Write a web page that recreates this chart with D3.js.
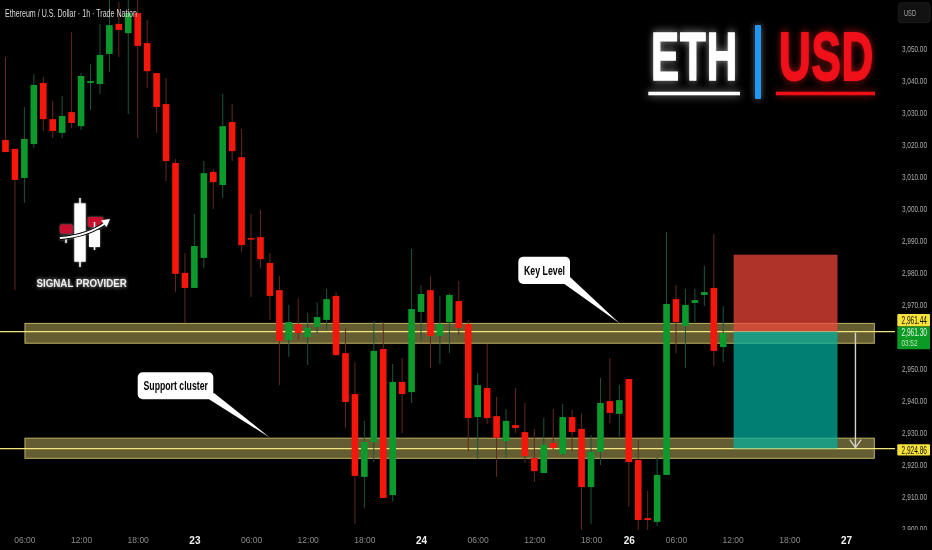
<!DOCTYPE html>
<html><head><meta charset="utf-8">
<script src="https://cdn.jsdelivr.net/npm/d3@7/dist/d3.min.js"></script>
<style>
html,body{margin:0;padding:0;background:#000;width:932px;height:550px;overflow:hidden}
svg{display:block;font-family:"Liberation Sans Narrow","Liberation Sans",Roboto,sans-serif;filter:blur(.35px)}
</style></head><body>
<svg id="c" width="932" height="550"></svg>
<script>
const opens=[3021.4,3018.6,3009.5,3020.1,3039.2,3027.9,3023.6,3030.1,3025.7,3039.2,3038.9,3048.3,3057.7,3054.8,3061.1,3051.7,3042.3,3032.6,3014.2,2979.8,2975.1,2984.5,3011.4,3007.3,3027,3016,2990.7,2991,2982.9,2974.4,2958.8,2963.8,2959.7,2962.9,2965.1,2972.6,2954.7,2941.9,2916,2926.9,2956,2910.3,2945.7,2942.5,2967.6,2974.4,2960.1,2964.4,2971,2963.8,2934.7,2943.8,2935,2927.2,2932.2,2930,2921.9,2917.2,2926.6,2923.1,2934.7,2931,2912.8,2923.8,2939.7,2935.7,2946.6,2921.3,2903.1,2901.9,2916.6,2971.6,2963.2,2970.4,2972.9,2975.1,2956.6];
const highs=[3047.3,3018.6,3031.7,3042,3041.1,3033.6,3035.1,3055.1,3042.3,3045.1,3057.7,3065.8,3064.5,3066.7,3066.7,3058.9,3042.3,3040.8,3015.4,2986,2998.2,3014.8,3012.3,3035.8,3032.6,3024.8,2998.2,2999.5,2986,2978.8,2969.8,2971.9,2967.3,2970.7,2974.8,2973.8,2962.6,2951.9,2933.5,2964.7,2964.4,2951.3,2953.2,2987.3,2976,2978.8,2972.6,2973.5,2977.3,2965.1,2948.5,2957.6,2941,2937.2,2943.8,2939.1,2931,2934.4,2937.2,2938.8,2936.9,2935.7,2929.1,2946.9,2953.2,2944.7,2946.6,2927.5,2911.6,2922.2,2992.6,2976,2974.8,2974.8,2982,2992,2969.4];
const lows=[3017.6,2974.4,3001.7,3018.9,3024.2,3022,3022,3025.1,3024.5,3030.8,3035.8,3042.6,3047.3,3029.5,3022,3037.6,3023.6,3008.5,2973.8,2964.1,2975.1,2981.3,2999.8,3003.2,3014.8,2986.3,2972.3,2981.3,2965.1,2944.7,2953.5,2958.8,2951,2961,2961.9,2953.8,2931.3,2901.3,2906.3,2920.6,2909.4,2908.4,2929.7,2939.1,2958.8,2950,2951.3,2954.7,2960.4,2924.1,2921.6,2932.5,2916,2921.9,2929.7,2920.3,2914.4,2917.2,2924.4,2922.8,2924.1,2899.4,2901.3,2919.7,2932.8,2928.5,2906.6,2899.4,2899.4,2900.6,2916.6,2954.7,2950,2964.4,2969.4,2950.7,2951.9];
const closes=[3017.6,3008.9,3021.7,3038.6,3027.9,3024.2,3028.9,3026.7,3041.4,3039.8,3048,3057.3,3055.8,3061.1,3050.8,3042.9,3031.7,3014.8,2979.5,2975.1,2988.2,3011,3008.2,3025.7,3017.9,2988.5,2990.4,2984.1,2972.6,2958.5,2964.4,2961,2962.6,2966,2971.6,2954.1,2939.4,2916.3,2926.9,2955.4,2909.4,2945.7,2941.9,2968.5,2973.2,2960.1,2963.8,2972.9,2962.6,2934.4,2944.7,2934.4,2928.2,2933.5,2931.3,2922.5,2917.8,2926,2925,2934.7,2930,2912.8,2923.8,2939.1,2936,2940,2920.6,2902.5,2902.5,2916.6,2970.1,2964.4,2969.8,2971.3,2973.8,2955.4,2961];
const tickBars=[2,8,14,20,26,32,38,44,50,56,62,66,71,77,83,89];
const tickLabels=["06:00","12:00","18:00","23","06:00","12:00","18:00","24","06:00","12:00","18:00","26","06:00","12:00","18:00","27"];
const priceTicks=[2900,2910,2920,2930,2940,2950,2970,2980,2990,3000,3010,3020,3030,3040,3050];
const levels=[2961.44,2924.86];
const zoneTops=[2964,2928.1];
const zoneBottoms=[2957.8,2921.8];
const zoneBars=[2.06,92];
const entry=2961.44, stopLevel=2985.5, target=2924.86;
const boxBars=[77.1,88.1];
const arrowBar=90;
const title="Ethereum / U.S. Dollar · 1h · Trade Nation";

const svg=d3.select("#c");
const defs=svg.append("defs");
defs.append("clipPath").attr("id","plot").append("rect").attr("x",0).attr("y",0).attr("width",895).attr("height",530);
defs.append("clipPath").attr("id","axisclip").append("rect").attr("x",895).attr("y",0).attr("width",37).attr("height",530);
svg.append("rect").attr("width",932).attr("height",550).attr("fill","#000");

// squeeze a text horizontally to a given width, keeping its measured box true
function fit(t,px,py,w){
  const len=t.node().getComputedTextLength();
  t.attr("x",0).attr("y",0).attr("transform",`translate(${px},${py}) scale(${w/len},1)`);
  return t;
}

const x=d3.scaleLinear().domain([0,89]).range([5.5,846]);
const y=d3.scaleLinear().domain([2900,3050]).range([528,48.5]);
const plot=svg.append("g").attr("clip-path","url(#plot)");

// zones and level lines
zoneTops.forEach((t,i)=>{
  plot.append("rect").attr("x",x(zoneBars[0])).attr("width",x(zoneBars[1])-x(zoneBars[0]))
   .attr("y",y(t)).attr("height",y(zoneBottoms[i])-y(t))
   .attr("fill","rgba(200,185,100,.5)").attr("stroke","#bdb163").attr("stroke-width",1);
  plot.append("line").attr("x1",0).attr("x2",897).attr("y1",y(levels[i])).attr("y2",y(levels[i]))
   .attr("stroke","#f4e67e").attr("stroke-width",1.2);
});

// candles
const idx=d3.range(opens.length);
const up=i=>closes[i]>=opens[i];
plot.selectAll(".w").data(idx).join("line").attr("x1",i=>x(i)).attr("x2",i=>x(i))
  .attr("y1",i=>y(highs[i])).attr("y2",i=>y(lows[i]))
  .attr("stroke",i=>up(i)?"#1b5540":"#632a1f").attr("stroke-width",1);
plot.selectAll(".b").data(idx).join("rect").attr("x",i=>x(i)-3.3).attr("width",6.6)
  .attr("y",i=>y(Math.max(opens[i],closes[i])))
  .attr("height",i=>Math.max(1.6,Math.abs(y(opens[i])-y(closes[i]))))
  .attr("fill",i=>up(i)?"#0c9a2d":"#f5170b");

// position box
const bx=x(boxBars[0]),bw=x(boxBars[1])-x(boxBars[0]);
plot.append("rect").attr("x",bx).attr("width",bw).attr("y",y(stopLevel)).attr("height",y(entry)-y(stopLevel)).attr("fill","rgba(250,72,58,.7)");
plot.append("rect").attr("x",bx).attr("width",bw).attr("y",y(entry)).attr("height",y(target)-y(entry)).attr("fill","rgba(0,181,163,.7)");

// arrow
const ax=x(arrowBar);
plot.append("line").attr("x1",ax).attr("x2",ax).attr("y1",y(entry)+1).attr("y2",y(target)-1).attr("stroke","#d4d4cc").attr("stroke-width",1.4);
plot.append("path").attr("d",`M${ax-5.7},${y(target)-9}L${ax},${y(target)-1}L${ax+5.7},${y(target)-9}`).attr("fill","none").attr("stroke","#d4d4cc").attr("stroke-width",1.3);

// callouts
function callout(rx,ry,rw,rh,tail,text,tx,tw){
  const g=svg.append("g");
  g.append("path").attr("d",tail).attr("fill","#fff");
  g.append("rect").attr("x",rx).attr("y",ry).attr("width",rw).attr("height",rh).attr("rx",5).attr("fill","#fff");
  const t=g.append("text").text(text).attr("fill","#000").attr("font-size",13).attr("font-weight",700);
  fit(t,tx,ry+rh/2+4.5,tw);
}
callout(518.3,256.7,51.7,27.3,"M563,283L570,277L619.5,323.3Z","Key Level",524,41);
callout(137.7,372.3,75.6,27,"M207,398L214,393L270,437.7Z","Support cluster",143.5,64.5);

// logo
const logo=svg.append("g").style("filter","drop-shadow(0 0 1px rgba(255,255,255,.5))");
logo.append("rect").attr("x",60).attr("y",224.5).attr("width",12.5).attr("height",9).attr("fill","#c8102e").attr("rx",1);
logo.append("rect").attr("x",88).attr("y",217).attr("width",15).attr("height",10).attr("fill","#c8102e").attr("rx",1);
logo.append("line").attr("x1",80).attr("x2",80).attr("y1",198).attr("y2",267).attr("stroke","#fff").attr("stroke-width",1.5);
logo.append("rect").attr("x",74.3).attr("y",203.3).attr("width",11.4).attr("height",58.4).attr("fill","#fff");
logo.append("line").attr("x1",94.5).attr("x2",94.5).attr("y1",222).attr("y2",250).attr("stroke","#fff").attr("stroke-width",1.5);
logo.append("rect").attr("x",89).attr("y",230).attr("width",11).attr("height",17).attr("fill","#fff");
logo.append("line").attr("x1",66).attr("x2",66).attr("y1",237).attr("y2",243).attr("stroke","#fff").attr("stroke-width",1.5);
logo.append("path").attr("d","M60,238Q88,236 107,222").attr("fill","none").attr("stroke","#000").attr("stroke-width",4);
logo.append("path").attr("d","M60,238Q88,236 107,222").attr("fill","none").attr("stroke","#fff").attr("stroke-width",2);
logo.append("path").attr("d","M110,219L101,220.5L106.5,227Z").attr("fill","#fff");
const sp=svg.append("text").text("SIGNAL PROVIDER").attr("fill","#f0f0f0")
  .attr("font-family","Liberation Sans, sans-serif").attr("font-size",11.5).attr("font-weight",700)
  .style("filter","drop-shadow(0 0 2px rgba(255,255,255,.7))");
fit(sp,36.5,287.2,90.5);

// title
const tt=svg.append("text").text(title).attr("fill","#dcdcdc").attr("font-size",11);
fit(tt,5,16.5,132);

// headline
const eth=svg.append("text").text("ETH").attr("fill","#fff").attr("stroke","#fff").attr("stroke-width",1.6)
  .attr("font-size",69).attr("font-weight",700).attr("letter-spacing",1.5).style("filter","drop-shadow(0 0 5px rgba(255,255,255,.55))");
fit(eth,651,80.2,87);
const usd=svg.append("text").text("USD").attr("fill","#f0101a").attr("stroke","#f0101a").attr("stroke-width",1.8)
  .attr("font-size",69).attr("font-weight",700).attr("letter-spacing",1).style("filter","drop-shadow(0 0 5px rgba(255,30,30,.6))");
fit(usd,779,80.2,95);
svg.append("rect").attr("x",648.3).attr("y",91.7).attr("width",91.7).attr("height",3.6).attr("fill","#fff").style("filter","drop-shadow(0 0 4px rgba(255,255,255,.6))");
svg.append("rect").attr("x",776).attr("y",91.7).attr("width",99).attr("height",3.6).attr("fill","#ee1018").style("filter","drop-shadow(0 0 4px rgba(255,30,30,.6))");
svg.append("rect").attr("x",755).attr("y",25).attr("width",6).attr("height",74).attr("rx",1).attr("fill","#2196f3").style("filter","drop-shadow(0 0 3px rgba(255,255,255,.4))");

// price axis
const yAxis=d3.axisRight(y).tickValues(priceTicks).tickFormat(d3.format(",.2f")).tickSize(0).tickPadding(0);
const yg=svg.append("g").attr("clip-path","url(#axisclip)").append("g").attr("transform","translate(902,0)").call(yAxis);
yg.select(".domain").remove();
yg.selectAll("text").attr("fill","#b0b0b0").attr("font-size",9.5).attr("dy",null)
  .each(function(){fit(d3.select(this),0,3.4,25);});

// time axis
const xAxis=d3.axisBottom(x).tickValues(tickBars).tickFormat((d,i)=>tickLabels[i]).tickSize(0).tickPadding(0);
const xg=svg.append("g").attr("transform","translate(0,537)").call(xAxis);
xg.select(".domain").remove();
xg.selectAll("text").each(function(d,i){
  const day=tickLabels[i].length<3;
  d3.select(this).attr("fill",day?"#f0f0f0":"#8a8a8a").attr("font-size",day?10:8.5).attr("font-weight",day?700:400);
});

// price labels
function tag(py,h,fill,txt,col){
  svg.append("rect").attr("x",897.3).attr("y",py).attr("width",32.7).attr("height",h).attr("fill",fill).attr("rx",1);
  fit(svg.append("text").text(txt).attr("fill",col).attr("font-size",10),901.5,py+9.7,25.5);
}
tag(y(levels[0])-17.7,12.7,"#f7e23a",d3.format(",.2f")(levels[0]),"#111");
tag(326.7,22.6,"#0b9a24","2,961.30","#e8f5e8");
fit(svg.append("text").text("03:52").attr("fill","#bfe6bf").attr("font-size",9.5),901.5,346,16);
tag(y(levels[1])-4.3,11.3,"#f7e23a",d3.format(",.2f")(levels[1]),"#111");

// currency button
svg.append("rect").attr("x",898.3).attr("y",2.7).attr("width",31.7).attr("height",20).attr("rx",3).attr("fill","#121212").attr("stroke","#1c1c1c");
fit(svg.append("text").text("USD").attr("fill","#a8a8a8").attr("font-size",9),904,15.5,12);
</script>
</body></html>
